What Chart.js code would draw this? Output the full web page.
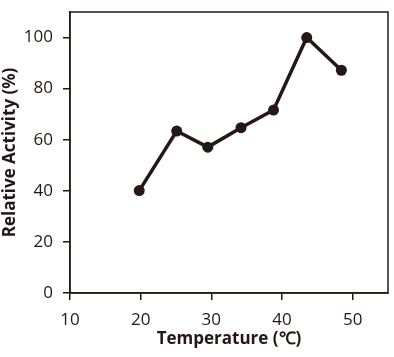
<!DOCTYPE html>
<html>
<head>
<meta charset="utf-8">
<script src="https://cdn.jsdelivr.net/npm/chart.js@4/dist/chart.umd.min.js"></script>
<style>
html,body{margin:0;padding:0;background:#fff;}
#wrap{width:394px;height:357px;position:relative;}
</style>
</head>
<body>
<div id="wrap"><canvas id="c" width="394" height="357"></canvas></div>
<script>
const temperatures = [19.8, 25.1, 29.5, 34.2, 38.8, 43.5, 48.4];
const activity = [40.1, 63.4, 57.1, 64.7, 71.6, 100, 87.2];
const xTitle = 'Temperature (\u2103)';
const yTitle = 'Relative Activity (%)';

const ink = '#231815';
const points = temperatures.map((t, i) => ({x: t, y: activity[i]}));

const frame = {
  id: 'frame',
  afterDraw(chart) {
    const a = chart.chartArea, ctx = chart.ctx;
    ctx.save();
    ctx.strokeStyle = ink;
    ctx.lineWidth = 1.5;
    ctx.strokeRect(a.left, a.top, a.right - a.left, a.bottom - a.top);
    ctx.restore();
  }
};

new Chart(document.getElementById('c'), {
  type: 'line',
  data: {
    datasets: [{
      data: points,
      borderColor: ink,
      backgroundColor: ink,
      borderWidth: 3.5,
      pointRadius: 5.5,
      pointBackgroundColor: ink,
      pointBorderColor: ink,
      pointBorderWidth: 0,
      tension: 0
    }]
  },
  options: {
    responsive: false,
    animation: false,
    layout: {padding: {top: 12, right: 6, left: 0, bottom: 0}},
    plugins: {legend: {display: false}, tooltip: {enabled: false}},
    scales: {
      x: {
        type: 'linear',
        min: 10, max: 55,
        afterFit(s) { s.height = 64; s.paddingLeft = 0; s.paddingRight = 0; },
        ticks: {stepSize: 10, includeBounds: false, color: ink, padding: 10,
                font: {family: 'Open Sans', size: 17}},
        grid: {drawOnChartArea: false, tickLength: 7, color: ink, lineWidth: 1.5},
        border: {color: ink, width: 1.5},
        title: {display: true, text: xTitle, color: ink, padding: {top: 0, bottom: 8},
                font: {family: 'Open Sans', size: 17, weight: 'bold'}}
      },
      y: {
        min: 0, max: 110,
        afterFit(s) { s.width = 70; s.paddingTop = 0; s.paddingBottom = 0; },
        ticks: {stepSize: 20, includeBounds: false, color: ink, padding: 10,
                font: {family: 'Open Sans', size: 17}},
        grid: {drawOnChartArea: false, tickLength: 7, color: ink, lineWidth: 1.5},
        border: {color: ink, width: 1.5},
        title: {display: true, text: yTitle, color: ink, padding: {top: 0, bottom: 0},
                font: {family: 'Open Sans', size: 17, weight: 'bold'}}
      }
    }
  },
  plugins: [frame]
});
</script>
</body>
</html>
